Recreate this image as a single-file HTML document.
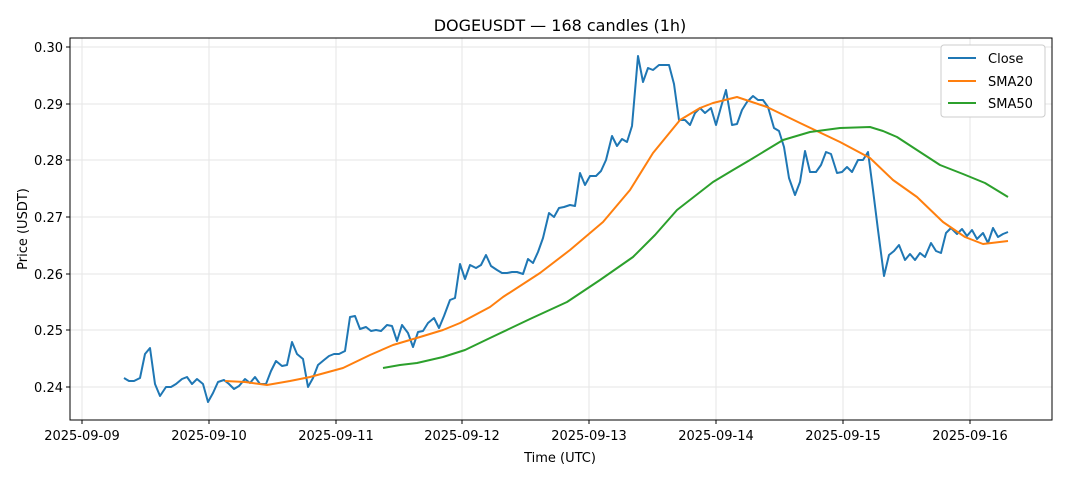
<!DOCTYPE html>
<html><head><meta charset="utf-8"><style>
body{margin:0;background:#fff;}
svg{display:block;font-family:"DejaVu Sans","Liberation Sans",sans-serif;}
</style></head><body>
<svg width="1068" height="481" viewBox="0 0 1068 481">
<rect width="1068" height="481" fill="#fff"/>
<text x="560" y="31" text-anchor="middle" font-size="16">DOGEUSDT — 168 candles (1h)</text>
<g stroke="#e6e6e6" stroke-width="1">
<line x1="82" y1="38" x2="82" y2="420"/><line x1="209" y1="38" x2="209" y2="420"/><line x1="336" y1="38" x2="336" y2="420"/><line x1="462" y1="38" x2="462" y2="420"/><line x1="589" y1="38" x2="589" y2="420"/><line x1="716" y1="38" x2="716" y2="420"/><line x1="843" y1="38" x2="843" y2="420"/><line x1="970" y1="38" x2="970" y2="420"/>
<line x1="70" y1="47" x2="1052" y2="47"/><line x1="70" y1="104" x2="1052" y2="104"/><line x1="70" y1="160" x2="1052" y2="160"/><line x1="70" y1="217" x2="1052" y2="217"/><line x1="70" y1="274" x2="1052" y2="274"/><line x1="70" y1="330" x2="1052" y2="330"/><line x1="70" y1="387" x2="1052" y2="387"/>
</g>
<g fill="none" stroke-width="2" stroke-linejoin="round">
<polyline stroke="#1f77b4" points="124,378 129,381 134,381 140,378 145,354 150,348 155,384 160,396 166,387 171,387 176,384 182,379 187,377 192,384 197,379 203,384 208,402 213,393 218,382 224,380 229,384 234,389 239,386 245,379 250,383 255,377 260,384 266,384 271,371 276,361 282,366 287,365 292,342 297,354 303,359 308,387 313,378 318,365 324,360 329,356 334,354 339,354 345,351 350,317 355,316 360,329 366,327 371,331 376,330 381,331 387,325 392,326 397,341 402,325 408,333 413,347 418,332 423,331 428,323 434,318 439,328 444,316 450,300 455,298 460,264 465,279 470,265 476,268 481,265 486,255 491,266 497,270 502,273 507,273 512,272 517,272 523,274 528,259 533,263 538,252 543,238 549,213 554,217 559,208 564,207 570,205 575,206 580,173 585,185 590,176 596,176 601,171 606,160 612,136 617,146 622,139 627,142 632,126 638,56 643,82 648,68 653,70 659,65 664,65 669,65 674,84 679,120 685,120 690,125 695,113 700,108 705,113 711,108 716,125 721,107 726,90 732,125 737,124 742,110 747,102 753,96 758,100 763,100 768,107 774,128 779,131 784,147 789,178 795,195 800,182 805,151 810,172 816,172 821,165 826,152 831,154 837,173 842,172 847,167 852,172 858,160 863,160 868,152 873,190 878,230 884,276 889,255 894,251 899,245 905,260 910,254 915,260 920,253 925,257 931,243 936,251 941,253 946,233 951,228 957,234 962,229 967,236 972,230 977,239 983,233 988,243 993,228 998,237 1003,234 1008,232"/>
<polyline stroke="#ff7f0e" points="225,381 245,382 267,385 290,381 310,377 343,368 370,355 393,345 420,337 443,330 460,323 490,307 503,297 540,273 570,250 603,222 630,190 653,153 680,120 700,108 713,103 737,97 767,107 800,123 840,142 870,158 893,180 917,197 943,222 965,237 983,244 1008,241"/>
<polyline stroke="#2ca02c" points="383,368 400,365 417,363 443,357 465,350 490,338 530,319 567,302 600,280 633,257 655,235 677,210 713,182 733,170 750,160 783,140 810,132 840,128 870,127 883,131 897,137 920,152 940,165 963,174 985,183 1008,197"/>
</g>
<rect x="70" y="38" width="982" height="382" fill="none" stroke="#000" stroke-width="1"/>
<g stroke="#000"><line x1="82" y1="420" x2="82" y2="424"/><line x1="209" y1="420" x2="209" y2="424"/><line x1="336" y1="420" x2="336" y2="424"/><line x1="462" y1="420" x2="462" y2="424"/><line x1="589" y1="420" x2="589" y2="424"/><line x1="716" y1="420" x2="716" y2="424"/><line x1="843" y1="420" x2="843" y2="424"/><line x1="970" y1="420" x2="970" y2="424"/>
<line x1="66" y1="47" x2="70" y2="47"/><line x1="66" y1="104" x2="70" y2="104"/><line x1="66" y1="160" x2="70" y2="160"/><line x1="66" y1="217" x2="70" y2="217"/><line x1="66" y1="274" x2="70" y2="274"/><line x1="66" y1="330" x2="70" y2="330"/><line x1="66" y1="387" x2="70" y2="387"/></g>
<g font-size="13" text-anchor="middle">
<text x="82" y="440">2025-09-09</text><text x="209" y="440">2025-09-10</text><text x="336" y="440">2025-09-11</text><text x="462" y="440">2025-09-12</text><text x="589" y="440">2025-09-13</text><text x="716" y="440">2025-09-14</text><text x="843" y="440">2025-09-15</text><text x="970" y="440">2025-09-16</text>
<text x="560" y="462">Time (UTC)</text>
</g>
<g font-size="13" text-anchor="end">
<text x="63" y="52">0.30</text><text x="63" y="109">0.29</text><text x="63" y="165">0.28</text><text x="63" y="222">0.27</text><text x="63" y="279">0.26</text><text x="63" y="335">0.25</text><text x="63" y="392">0.24</text>
</g>
<text transform="translate(27,229) rotate(-90)" font-size="13" text-anchor="middle">Price (USDT)</text>
<rect x="941" y="45" width="104" height="72" rx="3" fill="#fff" stroke="#ccc"/>
<g stroke-width="2"><line x1="948" y1="58" x2="976" y2="58" stroke="#1f77b4"/><line x1="948" y1="81" x2="976" y2="81" stroke="#ff7f0e"/><line x1="948" y1="103" x2="976" y2="103" stroke="#2ca02c"/></g>
<g font-size="13"><text x="988" y="63">Close</text><text x="988" y="86">SMA20</text><text x="988" y="108">SMA50</text></g>
</svg>
</body></html>
